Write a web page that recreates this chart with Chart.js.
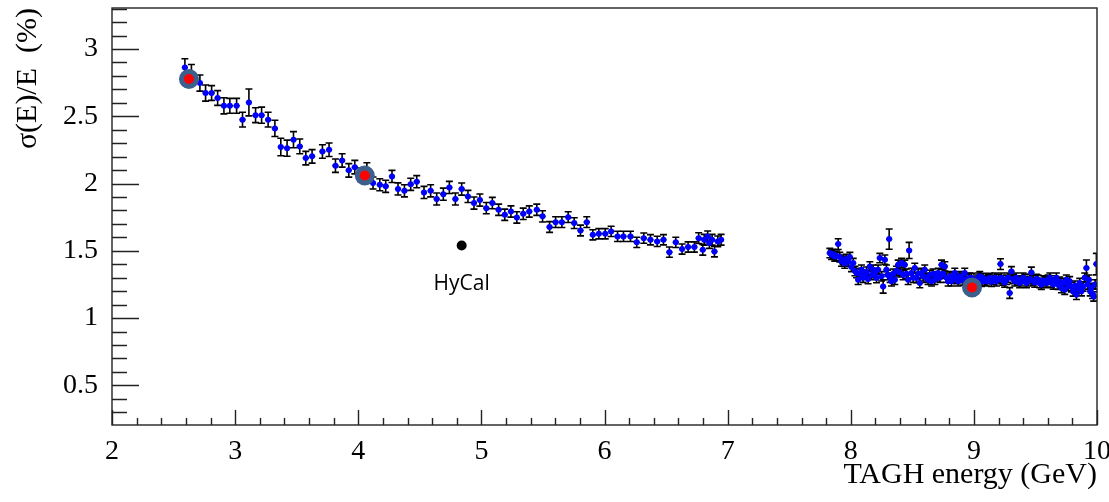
<!DOCTYPE html>
<html>
<head>
<meta charset="utf-8">
<script src="https://cdn.jsdelivr.net/npm/chart.js@4.4.1/dist/chart.umd.min.js"></script>
<style>
  html, body { margin: 0; padding: 0; background: #fff; }
  #wrap { width: 1109px; height: 502px; }
</style>
</head>
<body>
<div id="wrap"><canvas id="resolution" width="1109" height="502"></canvas></div>
<script>
// TAGH energy scan, lower tagger range (GeV) and sigma(E)/E (%)
const energyLow = [2.592, 2.645, 2.714, 2.760, 2.809, 2.858, 2.909, 2.957, 3.012, 3.060,
  3.112, 3.166, 3.215, 3.268, 3.323, 3.371, 3.422, 3.474, 3.525, 3.574,
  3.625, 3.709, 3.763, 3.815, 3.869, 3.923, 3.972, 4.020, 4.070, 4.120,
  4.175, 4.223, 4.274, 4.323, 4.375, 4.426, 4.475, 4.534, 4.588, 4.637,
  4.691, 4.740, 4.789, 4.840, 4.891, 4.940, 4.988, 5.040, 5.089, 5.140,
  5.190, 5.240, 5.288, 5.340, 5.389, 5.450, 5.497, 5.554, 5.603, 5.654,
  5.705, 5.754, 5.805, 5.856, 5.905, 5.954, 6.006, 6.054, 6.106, 6.154,
  6.211, 6.262, 6.319, 6.373, 6.428, 6.479, 6.527, 6.579, 6.630, 6.679,
  6.730, 6.765, 6.798, 6.810, 6.838, 6.852, 6.874, 6.893, 6.920, 6.947];
const sigmaLow = [2.863, 2.810, 2.747, 2.673, 2.673, 2.636, 2.578, 2.578, 2.578, 2.475,
  2.603, 2.508, 2.508, 2.475, 2.410, 2.272, 2.263, 2.326, 2.276, 2.189,
  2.202, 2.238, 2.251, 2.133, 2.172, 2.098, 2.122, 2.065, 2.105, 2.004,
  1.991, 1.979, 2.053, 1.960, 1.946, 1.994, 2.014, 1.934, 1.946, 1.885,
  1.921, 1.971, 1.885, 1.959, 1.904, 1.855, 1.877, 1.817, 1.855, 1.805,
  1.768, 1.792, 1.748, 1.775, 1.792, 1.805, 1.756, 1.677, 1.713, 1.713,
  1.750, 1.706, 1.651, 1.713, 1.619, 1.627, 1.627, 1.644, 1.607, 1.607,
  1.607, 1.563, 1.594, 1.582, 1.570, 1.582, 1.490, 1.563, 1.513, 1.528,
  1.528, 1.594, 1.508, 1.582, 1.607, 1.558, 1.582, 1.495, 1.570, 1.582];
const errLow = [0.065, 0.075, 0.060, 0.060, 0.055, 0.055, 0.060, 0.055, 0.055, 0.055,
  0.100, 0.055, 0.060, 0.055, 0.060, 0.065, 0.060, 0.060, 0.055, 0.050,
  0.050, 0.050, 0.050, 0.050, 0.050, 0.050, 0.050, 0.050, 0.050, 0.045,
  0.045, 0.045, 0.045, 0.045, 0.045, 0.045, 0.045, 0.045, 0.045, 0.045,
  0.045, 0.045, 0.045, 0.045, 0.045, 0.045, 0.045, 0.042, 0.042, 0.042,
  0.042, 0.042, 0.042, 0.042, 0.042, 0.042, 0.042, 0.040, 0.040, 0.040,
  0.040, 0.040, 0.040, 0.040, 0.038, 0.038, 0.038, 0.038, 0.038, 0.038,
  0.038, 0.038, 0.038, 0.038, 0.038, 0.038, 0.038, 0.038, 0.038, 0.038,
  0.038, 0.040, 0.040, 0.040, 0.040, 0.040, 0.040, 0.040, 0.040, 0.040];

// upper tagger range
const energyHigh = [7.830, 7.844, 7.857, 7.870, 7.884, 7.898, 7.911, 7.925, 7.938, 7.952,
  7.965, 7.979, 7.993, 8.006, 8.020, 8.034, 8.047, 8.060, 8.073, 8.087,
  8.100, 8.114, 8.128, 8.141, 8.155, 8.168, 8.182, 8.196, 8.209, 8.222,
  8.236, 8.250, 8.263, 8.277, 8.290, 8.300, 8.312, 8.320, 8.331, 8.345,
  8.358, 8.371, 8.385, 8.398, 8.412, 8.425, 8.439, 8.452, 8.466, 8.474,
  8.493, 8.507, 8.520, 8.534, 8.547, 8.561, 8.574, 8.588, 8.601, 8.615,
  8.628, 8.642, 8.656, 8.669, 8.683, 8.697, 8.710, 8.724, 8.737, 8.750,
  8.764, 8.778, 8.791, 8.805, 8.818, 8.832, 8.845, 8.858, 8.872, 8.886,
  8.899, 8.912, 8.926, 8.940, 8.953, 8.967, 8.980, 9.000, 9.021, 9.035,
  9.048, 9.062, 9.075, 9.089, 9.102, 9.116, 9.129, 9.143, 9.156, 9.170,
  9.183, 9.200, 9.216, 9.225, 9.237, 9.250, 9.264, 9.278, 9.291, 9.305,
  9.318, 9.332, 9.345, 9.359, 9.372, 9.386, 9.400, 9.413, 9.427, 9.440,
  9.454, 9.467, 9.481, 9.494, 9.508, 9.521, 9.535, 9.548, 9.562, 9.576,
  9.590, 9.603, 9.617, 9.630, 9.644, 9.657, 9.670, 9.684, 9.697, 9.711,
  9.725, 9.738, 9.751, 9.765, 9.778, 9.792, 9.806, 9.820, 9.833, 9.847,
  9.860, 9.874, 9.887, 9.900, 9.914, 9.925, 9.935, 9.945, 9.954, 9.964,
  9.973, 9.985, 9.995];
const sigmaHigh = [1.483, 1.470, 1.476, 1.458, 1.463, 1.550, 1.453, 1.420, 1.434, 1.405,
  1.439, 1.420, 1.453, 1.380, 1.409, 1.350, 1.335, 1.285, 1.330, 1.359,
  1.300, 1.322, 1.345, 1.290, 1.384, 1.320, 1.359, 1.335, 1.297, 1.360,
  1.446, 1.310, 1.235, 1.434, 1.359, 1.320, 1.587, 1.300, 1.273, 1.330,
  1.285, 1.350, 1.396, 1.340, 1.409, 1.320, 1.396, 1.330, 1.285, 1.503,
  1.335, 1.300, 1.372, 1.297, 1.330, 1.260, 1.335, 1.310, 1.359, 1.300,
  1.285, 1.320, 1.273, 1.330, 1.285, 1.310, 1.335, 1.300, 1.396, 1.330,
  1.384, 1.300, 1.273, 1.310, 1.273, 1.300, 1.335, 1.290, 1.273, 1.310,
  1.297, 1.280, 1.335, 1.290, 1.273, 1.300, 1.297, 1.270, 1.285, 1.300,
  1.310, 1.270, 1.297, 1.280, 1.273, 1.290, 1.297, 1.270, 1.285, 1.300,
  1.273, 1.290, 1.401, 1.300, 1.280, 1.265, 1.285, 1.300, 1.186, 1.347,
  1.290, 1.273, 1.300, 1.280, 1.260, 1.273, 1.300, 1.290, 1.260, 1.273,
  1.290, 1.339, 1.280, 1.265, 1.290, 1.285, 1.260, 1.248, 1.280, 1.273,
  1.260, 1.285, 1.300, 1.265, 1.250, 1.280, 1.300, 1.248, 1.270, 1.223,
  1.260, 1.211, 1.285, 1.240, 1.273, 1.230, 1.198, 1.240, 1.173, 1.220,
  1.260, 1.200, 1.235, 1.300, 1.372, 1.250, 1.285, 1.200, 1.223, 1.180,
  1.161, 1.250, 1.401];
const errHigh = [0.035, 0.035, 0.035, 0.035, 0.035, 0.040, 0.035, 0.035, 0.035, 0.035,
  0.035, 0.035, 0.035, 0.035, 0.035, 0.035, 0.035, 0.035, 0.035, 0.035,
  0.035, 0.035, 0.035, 0.035, 0.035, 0.035, 0.035, 0.035, 0.035, 0.035,
  0.035, 0.035, 0.050, 0.035, 0.035, 0.035, 0.075, 0.035, 0.035, 0.035,
  0.035, 0.035, 0.035, 0.035, 0.035, 0.035, 0.035, 0.035, 0.035, 0.060,
  0.035, 0.035, 0.035, 0.035, 0.035, 0.035, 0.035, 0.035, 0.035, 0.035,
  0.035, 0.035, 0.035, 0.035, 0.035, 0.035, 0.035, 0.035, 0.035, 0.035,
  0.035, 0.035, 0.035, 0.035, 0.035, 0.035, 0.035, 0.035, 0.035, 0.035,
  0.035, 0.035, 0.035, 0.035, 0.035, 0.035, 0.035, 0.035, 0.035, 0.035,
  0.035, 0.035, 0.035, 0.035, 0.035, 0.035, 0.035, 0.035, 0.035, 0.035,
  0.035, 0.035, 0.040, 0.035, 0.035, 0.035, 0.035, 0.035, 0.040, 0.035,
  0.035, 0.035, 0.035, 0.035, 0.035, 0.035, 0.035, 0.035, 0.035, 0.035,
  0.035, 0.040, 0.035, 0.035, 0.035, 0.035, 0.035, 0.035, 0.035, 0.035,
  0.035, 0.035, 0.035, 0.035, 0.035, 0.035, 0.035, 0.035, 0.035, 0.035,
  0.035, 0.035, 0.035, 0.035, 0.035, 0.035, 0.035, 0.035, 0.035, 0.035,
  0.035, 0.035, 0.035, 0.035, 0.060, 0.035, 0.035, 0.035, 0.035, 0.035,
  0.035, 0.035, 0.080];

// HyCal reference point
const hycalEnergy = [4.84];
const hycalSigma = [1.54];
const hycalLabel = 'HyCal';

// highlighted energies
const markedEnergy = [2.625, 4.053, 8.985];
const markedSigma = [2.777, 2.060, 1.228];

const xTickValues = [2, 3, 4, 5, 6, 7, 8, 9, 10];
const yTickValues = [0.5, 1, 1.5, 2, 2.5, 3];

const binHalfWidth = 0.025;

function toPoints(xs, ys) {
  return xs.map((v, i) => ({ x: v, y: ys[i] }));
}

// vertical error bars with caps and horizontal bin-width bars
const errorBars = {
  id: 'errorBars',
  beforeDatasetsDraw(chart) {
    const { ctx, chartArea: a, scales: { x, y } } = chart;
    ctx.save();
    ctx.beginPath();
    ctx.rect(a.left, a.top, a.right - a.left, a.bottom - a.top);
    ctx.clip();
    ctx.strokeStyle = '#000';
    ctx.lineWidth = 1.6;
    chart.data.datasets.forEach(ds => {
      if (!ds.errors) return;
      ds.data.forEach((p, i) => {
        const px = x.getPixelForValue(p.x);
        const py = y.getPixelForValue(p.y);
        const lo = y.getPixelForValue(p.y - ds.errors[i]);
        const hi = y.getPixelForValue(p.y + ds.errors[i]);
        ctx.beginPath();
        ctx.moveTo(px, lo); ctx.lineTo(px, hi);
        ctx.moveTo(px - 3.5, lo); ctx.lineTo(px + 3.5, lo);
        ctx.moveTo(px - 3.5, hi); ctx.lineTo(px + 3.5, hi);
        ctx.moveTo(x.getPixelForValue(p.x - binHalfWidth), py);
        ctx.lineTo(x.getPixelForValue(p.x + binHalfWidth), py);
        ctx.stroke();
      });
    });
    ctx.restore();
  }
};

// frame plus inward tick marks
const frameTicks = {
  id: 'frameTicks',
  afterDraw(chart) {
    const { ctx, chartArea: a, scales: { x, y } } = chart;
    ctx.save();
    ctx.strokeStyle = '#222';
    ctx.lineWidth = 1.4;
    ctx.strokeRect(a.left, a.top, a.right - a.left, a.bottom - a.top);
    ctx.beginPath();
    for (let v = 0.3; v <= y.max + 1e-6; v += 0.1) {
      const py = Math.round(y.getPixelForValue(v)) + 0.5;
      const major = Math.abs(v * 2 - Math.round(v * 2)) < 1e-6;
      ctx.moveTo(a.left, py);
      ctx.lineTo(a.left + (major ? 27 : 15), py);
    }
    for (let v = 2; v <= x.max + 1e-6; v += 0.2) {
      const px = Math.round(x.getPixelForValue(v)) + 0.5;
      const major = Math.abs(v - Math.round(v)) < 1e-6;
      ctx.moveTo(px, a.bottom);
      ctx.lineTo(px, a.bottom - (major ? 15 : 7));
    }
    ctx.stroke();
    ctx.restore();
  }
};

const hycalText = {
  id: 'hycalText',
  afterDatasetsDraw(chart) {
    const { ctx, scales: { x, y } } = chart;
    ctx.save();
    ctx.font = '21px "Open Sans"';
    ctx.fillStyle = '#000';
    ctx.textAlign = 'center';
    ctx.textBaseline = 'middle';
    ctx.fillText(hycalLabel, x.getPixelForValue(hycalEnergy[0]), y.getPixelForValue(hycalSigma[0]) + 39);
    ctx.restore();
  }
};

Chart.defaults.font.family = '"Liberation Serif", "Times New Roman", serif';
Chart.defaults.color = '#000';

new Chart(document.getElementById('resolution'), {
  type: 'scatter',
  data: {
    datasets: [
      {
        data: toPoints(markedEnergy, markedSigma),
        pointRadius: 7.5,
        pointBorderWidth: 5,
        pointBackgroundColor: '#ff0000',
        pointBorderColor: '#3d5f8c',
        order: 0
      },
      {
        data: toPoints(hycalEnergy, hycalSigma),
        pointRadius: 5,
        pointBorderWidth: 0,
        pointBackgroundColor: '#000',
        order: 1
      },
      {
        data: toPoints(energyLow, sigmaLow),
        errors: errLow,
        pointRadius: 3,
        pointBorderWidth: 0,
        pointBackgroundColor: '#0000ff',
        order: 2
      },
      {
        data: toPoints(energyHigh, sigmaHigh),
        errors: errHigh,
        pointRadius: 3,
        pointBorderWidth: 0,
        pointBackgroundColor: '#0000ff',
        order: 3
      }
    ]
  },
  options: {
    responsive: false,
    animation: false,
    layout: { autoPadding: false, padding: { left: 0, top: 8, right: 12, bottom: 0 } },
    plugins: { legend: { display: false }, tooltip: { enabled: false } },
    scales: {
      x: {
        type: 'linear',
        min: 2,
        max: 10,
        grid: { display: false },
        border: { display: false },
        afterFit: s => { s.height = 77; s.paddingLeft = 0; s.paddingRight = 0; },
        afterBuildTicks: s => { s.ticks = xTickValues.map(v => ({ value: v })); },
        ticks: { font: { size: 28 }, padding: 2, maxRotation: 0, callback: v => String(v) },
        title: { display: true, text: 'TAGH energy (GeV)', align: 'end', font: { size: 30 }, padding: { bottom: 9 } }
      },
      y: {
        type: 'linear',
        min: 0.205,
        max: 3.305,
        grid: { display: false },
        border: { display: false },
        afterFit: s => { s.width = 112; s.paddingTop = 0; s.paddingBottom = 0; },
        afterBuildTicks: s => { s.ticks = yTickValues.map(v => ({ value: v })); },
        ticks: { font: { size: 28 }, padding: 6, callback: v => String(v) },
        title: { display: true, text: 'σ(E)/E  (%)', align: 'end', font: { size: 30 }, padding: { top: 10 } }
      }
    }
  },
  plugins: [errorBars, frameTicks, hycalText]
});
</script>
</body>
</html>
